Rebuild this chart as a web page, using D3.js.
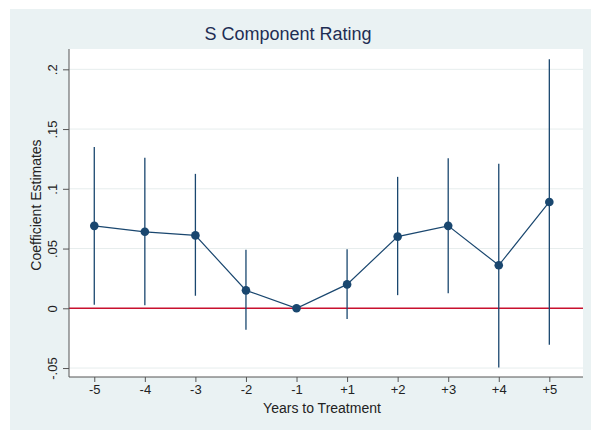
<!doctype html>
<meta charset="utf-8">
<style>
body { margin: 0; background: #fff; }
text { font-family: "Liberation Sans", Arial, sans-serif; }
</style>
<html lang="en">
<body>
<script src="https://d3js.org/d3.v7.min.js"></script>
<script>
// event-time categories and the estimates
var years = ["-5", "-4", "-3", "-2", "-1", "+1", "+2", "+3", "+4", "+5"];
var coef  = [0.069, 0.064, 0.061, 0.015, 0.000, 0.020, 0.060, 0.069, 0.036, 0.089];
var ciLow = [0.003, 0.0025, 0.0105, -0.018, 0.000, -0.009, 0.011, 0.0125, -0.0495, -0.0305];
var ciHigh = [0.135, 0.126, 0.1125, 0.049, 0.000, 0.0495, 0.110, 0.1255, 0.121, 0.2085];
var yTicks = [-0.05, 0, 0.05, 0.1, 0.15, 0.2];
var yTickLabels = ["-.05", "0", ".05", ".1", ".15", ".2"];

var W = 591, H = 430;
var plot = {left: 69, right: 583, top: 49, bottom: 377};

var svg = d3.select("body").append("svg")
    .attr("width", W)
    .attr("height", H);

// outer graph region
svg.append("rect")
    .attr("x", 10).attr("y", 9)
    .attr("width", W - 10).attr("height", H - 9)
    .attr("fill", "#eaf2f3");

svg.append("rect")
    .attr("x", plot.left).attr("y", plot.top)
    .attr("width", plot.right - plot.left).attr("height", plot.bottom - plot.top)
    .attr("fill", "#fff");

var x = d3.scaleLinear()
    .domain([-0.5, 9.666])
    .range([plot.left, plot.right]);
var y = d3.scaleLinear()
    .domain([-0.0575, 0.217])
    .range([plot.bottom, plot.top]);

var idx = d3.range(years.length);

// grid lines
svg.append("g").selectAll("line")
    .data(yTicks.filter(function(d) { return d !== 0; }))
  .enter().append("line")
    .attr("x1", plot.left).attr("x2", plot.right)
    .attr("y1", function(d) { return y(d); })
    .attr("y2", function(d) { return y(d); })
    .attr("stroke", "#e6eded")
    .attr("stroke-width", 1);

// zero reference line
svg.append("line")
    .attr("x1", plot.left).attr("x2", plot.right)
    .attr("y1", y(0)).attr("y2", y(0))
    .attr("stroke", "#c8102e")
    .attr("stroke-width", 1.5);

// confidence intervals
svg.append("g").selectAll("line")
    .data(idx.filter(function(i) { return ciHigh[i] !== ciLow[i]; }))
  .enter().append("line")
    .attr("x1", function(i) { return x(i); })
    .attr("x2", function(i) { return x(i); })
    .attr("y1", function(i) { return y(ciLow[i]); })
    .attr("y2", function(i) { return y(ciHigh[i]); })
    .attr("stroke", "#1a476f")
    .attr("stroke-width", 1.3);

// connecting line
var line = d3.line()
    .x(function(i) { return x(i); })
    .y(function(i) { return y(coef[i]); });

svg.append("path")
    .datum(idx)
    .attr("d", line)
    .attr("fill", "none")
    .attr("stroke", "#1a476f")
    .attr("stroke-width", 1.2);

svg.append("g").selectAll("circle")
    .data(idx)
  .enter().append("circle")
    .attr("cx", function(i) { return x(i); })
    .attr("cy", function(i) { return y(coef[i]); })
    .attr("r", 4.3)
    .attr("fill", "#1a476f");

// axes
var xAxis = svg.append("g")
    .attr("transform", "translate(0," + plot.bottom + ")")
    .call(d3.axisBottom(x).tickValues(idx).tickSize(5).tickPadding(3)
      .tickFormat(function(i) { return years[i]; }));
xAxis.select(".domain").attr("d", "M" + plot.left + ",0H" + plot.right).attr("stroke", "#555");
xAxis.selectAll(".tick line").attr("stroke", "#555");
xAxis.selectAll(".tick text")
    .attr("font-size", 13)
    .attr("fill", "#222")
    .style("font-family", "Liberation Sans, Arial, sans-serif");

var yAxis = svg.append("g")
    .attr("transform", "translate(" + plot.left + ",0)")
    .call(d3.axisLeft(y).tickValues(yTicks).tickSize(6)
      .tickFormat(function(d, i) { return yTickLabels[i]; }));
yAxis.select(".domain").attr("d", "M0," + plot.top + "V" + plot.bottom).attr("stroke", "#555");
yAxis.selectAll(".tick line").attr("stroke", "#555");
yAxis.selectAll(".tick text")
    .attr("font-size", 13)
    .attr("fill", "#222")
    .attr("x", null).attr("dy", null)
    .attr("text-anchor", "middle")
    .attr("transform", "translate(-12,0) rotate(-90)")
    .style("font-family", "Liberation Sans, Arial, sans-serif");

// titles
svg.append("text")
    .attr("x", 288).attr("y", 40)
    .attr("text-anchor", "middle")
    .attr("font-size", 18)
    .attr("fill", "#1e2d53")
    .text("S Component Rating");

svg.append("text")
    .attr("x", 322).attr("y", 413)
    .attr("text-anchor", "middle")
    .attr("font-size", 14)
    .attr("fill", "#222")
    .text("Years to Treatment");

svg.append("text")
    .attr("transform", "translate(41,205) rotate(-90)")
    .attr("text-anchor", "middle")
    .attr("font-size", 14)
    .attr("fill", "#222")
    .text("Coefficient Estimates");
</script>
</body>
</html>
